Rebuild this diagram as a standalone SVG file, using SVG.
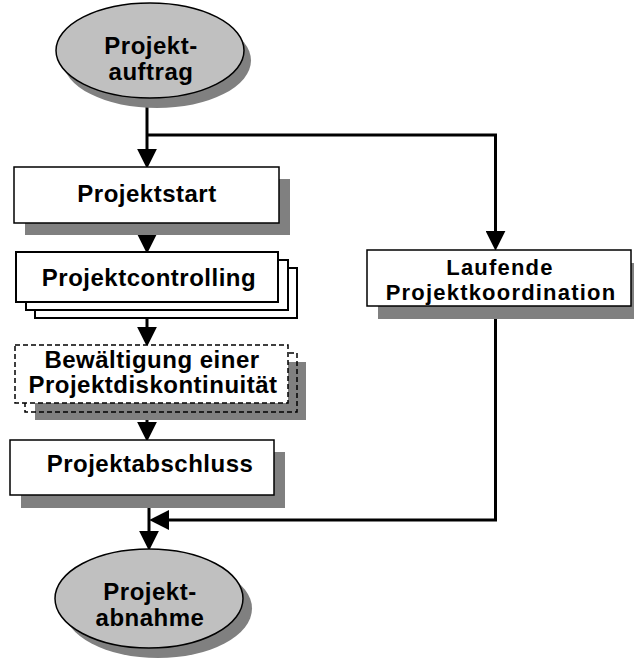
<svg xmlns="http://www.w3.org/2000/svg" width="634" height="659" viewBox="0 0 634 659">
<style>
.box{fill:#fff;stroke:#000;stroke-width:1.5}
.stack{fill:#fff;stroke:#000;stroke-width:2}
.dash{stroke-dasharray:5 3}
.shadow{fill:#808080;stroke:none}
.ell{fill:#c0c0c0;stroke:#000;stroke-width:1.5}
.con{fill:none;stroke:#000;stroke-width:3}
text{font-family:"Liberation Sans",Arial,sans-serif;font-weight:bold;font-size:24px;letter-spacing:0.5px;fill:#000;text-anchor:middle}
.sm{font-size:22px;letter-spacing:1.2px}
</style>
<defs>
<marker id="ah" markerUnits="userSpaceOnUse" markerWidth="20" markerHeight="20" viewBox="0 0 18 18" refX="2" refY="9" orient="auto">
<path d="M0,0 L18,9 L0,18 z" fill="#000"/>
</marker>
</defs>
<rect width="634" height="659" fill="#fff"/>
<g id="connectors">
<path class="con" d="M147,98 V151" marker-end="url(#ah)"/>
<path class="con" d="M147,135 H495.5 V233" marker-end="url(#ah)"/>
<path class="con" d="M147,223 V236" marker-end="url(#ah)"/>
<path class="con" d="M147,302 V329" marker-end="url(#ah)"/>
<path class="con" d="M147,403 V424" marker-end="url(#ah)"/>
<path class="con" d="M149,495 V533" marker-end="url(#ah)"/>
<path class="con" d="M495.5,306 V520 H167" marker-end="url(#ah)"/>
</g>
<g id="projektauftrag">
<ellipse class="shadow" cx="157" cy="60.5" rx="94" ry="47.5"/>
<ellipse class="ell" cx="150" cy="50.5" rx="94" ry="47.5"/>
<text x="151" y="54">Projekt-</text>
<text x="151" y="80">auftrag</text>
</g>
<g id="projektstart">
<rect class="shadow" x="25" y="179" width="265" height="56"/>
<rect class="box" x="14" y="167" width="265" height="56"/>
<text x="147" y="202">Projektstart</text>
</g>
<g id="projektcontrolling">
<rect class="stack" x="35" y="268" width="262" height="50"/>
<rect class="stack" x="26" y="260" width="262" height="50"/>
<rect class="stack" x="16" y="252" width="262" height="50"/>
<text x="149" y="286">Projektcontrolling</text>
</g>
<g id="bewaeltigung">
<rect class="shadow" x="35" y="362" width="271" height="58"/>
<rect class="box dash" x="25" y="353" width="272" height="59" style="fill:none"/>
<rect class="box dash" x="15" y="345" width="273" height="58"/>
<text x="152" y="368">Bewältigung einer</text>
<text x="153" y="393">Projektdiskontinuität</text>
</g>
<g id="projektabschluss">
<rect class="shadow" x="21" y="452" width="264" height="56"/>
<rect class="box" x="10" y="440" width="264" height="55"/>
<text x="150" y="472">Projektabschluss</text>
</g>
<g id="laufende">
<rect class="shadow" x="378" y="263" width="264" height="56"/>
<rect class="box" x="367" y="250" width="264" height="56"/>
<text class="sm" x="500" y="275">Laufende</text>
<text class="sm" x="501" y="300">Projektkoordination</text>
</g>
<g id="projektabnahme">
<ellipse class="shadow" cx="158" cy="608.5" rx="94" ry="49.5"/>
<ellipse class="ell" cx="149" cy="598.5" rx="94" ry="49.5"/>
<text x="150" y="600">Projekt-</text>
<text x="150" y="626">abnahme</text>
</g>
</svg>
